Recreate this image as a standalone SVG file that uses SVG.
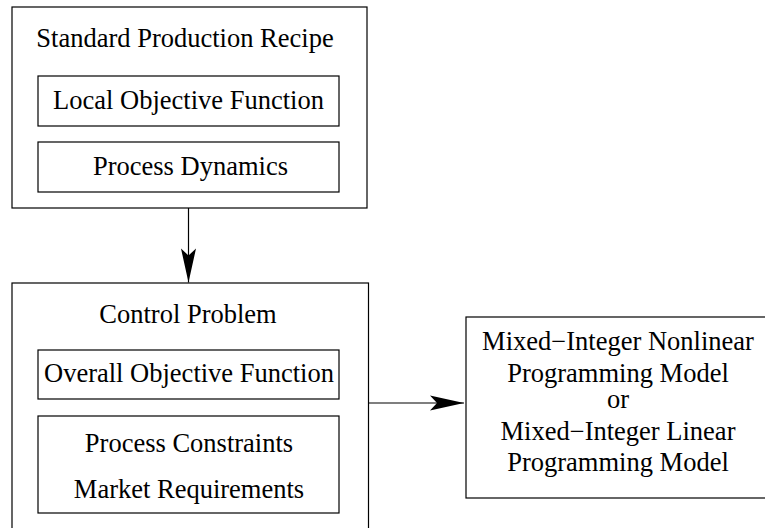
<svg xmlns="http://www.w3.org/2000/svg" width="765" height="528" viewBox="0 0 765 528">
<style>
.box{fill:none;stroke:#000;stroke-width:1.2}
.t{font-family:"Liberation Serif","Times New Roman",serif;font-size:26.5px;fill:#000;text-anchor:middle}
.c{stroke:#000;stroke-width:1.2;fill:none}
</style>
<defs>
<marker id="ah" markerUnits="userSpaceOnUse" markerWidth="36" markerHeight="16" viewBox="0 0 34 16" refX="34" refY="8" orient="auto">
<path d="M0,0.5 L34,8 L0,15.5 L7,8 Z" fill="#000"/>
</marker>
</defs>
<g id="recipe">
<rect class="box" x="12" y="7" width="355" height="201"/>
<text class="t" x="185" y="47">Standard Production Recipe</text>
<g id="local-objective">
<rect class="box" x="38" y="76" width="301" height="50"/>
<text class="t" x="188.5" y="109">Local Objective Function</text>
</g>
<g id="process-dynamics">
<rect class="box" x="38" y="142" width="301" height="50"/>
<text class="t" x="190.5" y="175">Process Dynamics</text>
</g>
</g>
<g id="control">
<rect class="box" x="12" y="283" width="356.5" height="260"/>
<text class="t" x="188" y="323">Control Problem</text>
<g id="overall-objective">
<rect class="box" x="38" y="350" width="301" height="49"/>
<text class="t" x="189" y="382">Overall Objective Function</text>
</g>
<g id="constraints">
<rect class="box" x="38" y="416" width="301" height="97"/>
<text class="t" x="189" y="452">Process Constraints</text>
<text class="t" x="189" y="498">Market Requirements</text>
</g>
</g>
<g id="model">
<rect class="box" x="466" y="317" width="310" height="181"/>
<text class="t" x="618" y="350">Mixed−Integer Nonlinear</text>
<text class="t" x="618" y="382">Programming Model</text>
<text class="t" x="618" y="408">or</text>
<text class="t" x="618" y="440">Mixed−Integer Linear</text>
<text class="t" x="618" y="471">Programming Model</text>
</g>
<g id="connectors">
<line class="c" x1="188.5" y1="208" x2="188.5" y2="282.5" marker-end="url(#ah)"/>
<line class="c" x1="368.5" y1="403" x2="464" y2="403" marker-end="url(#ah)"/>
</g>
</svg>
